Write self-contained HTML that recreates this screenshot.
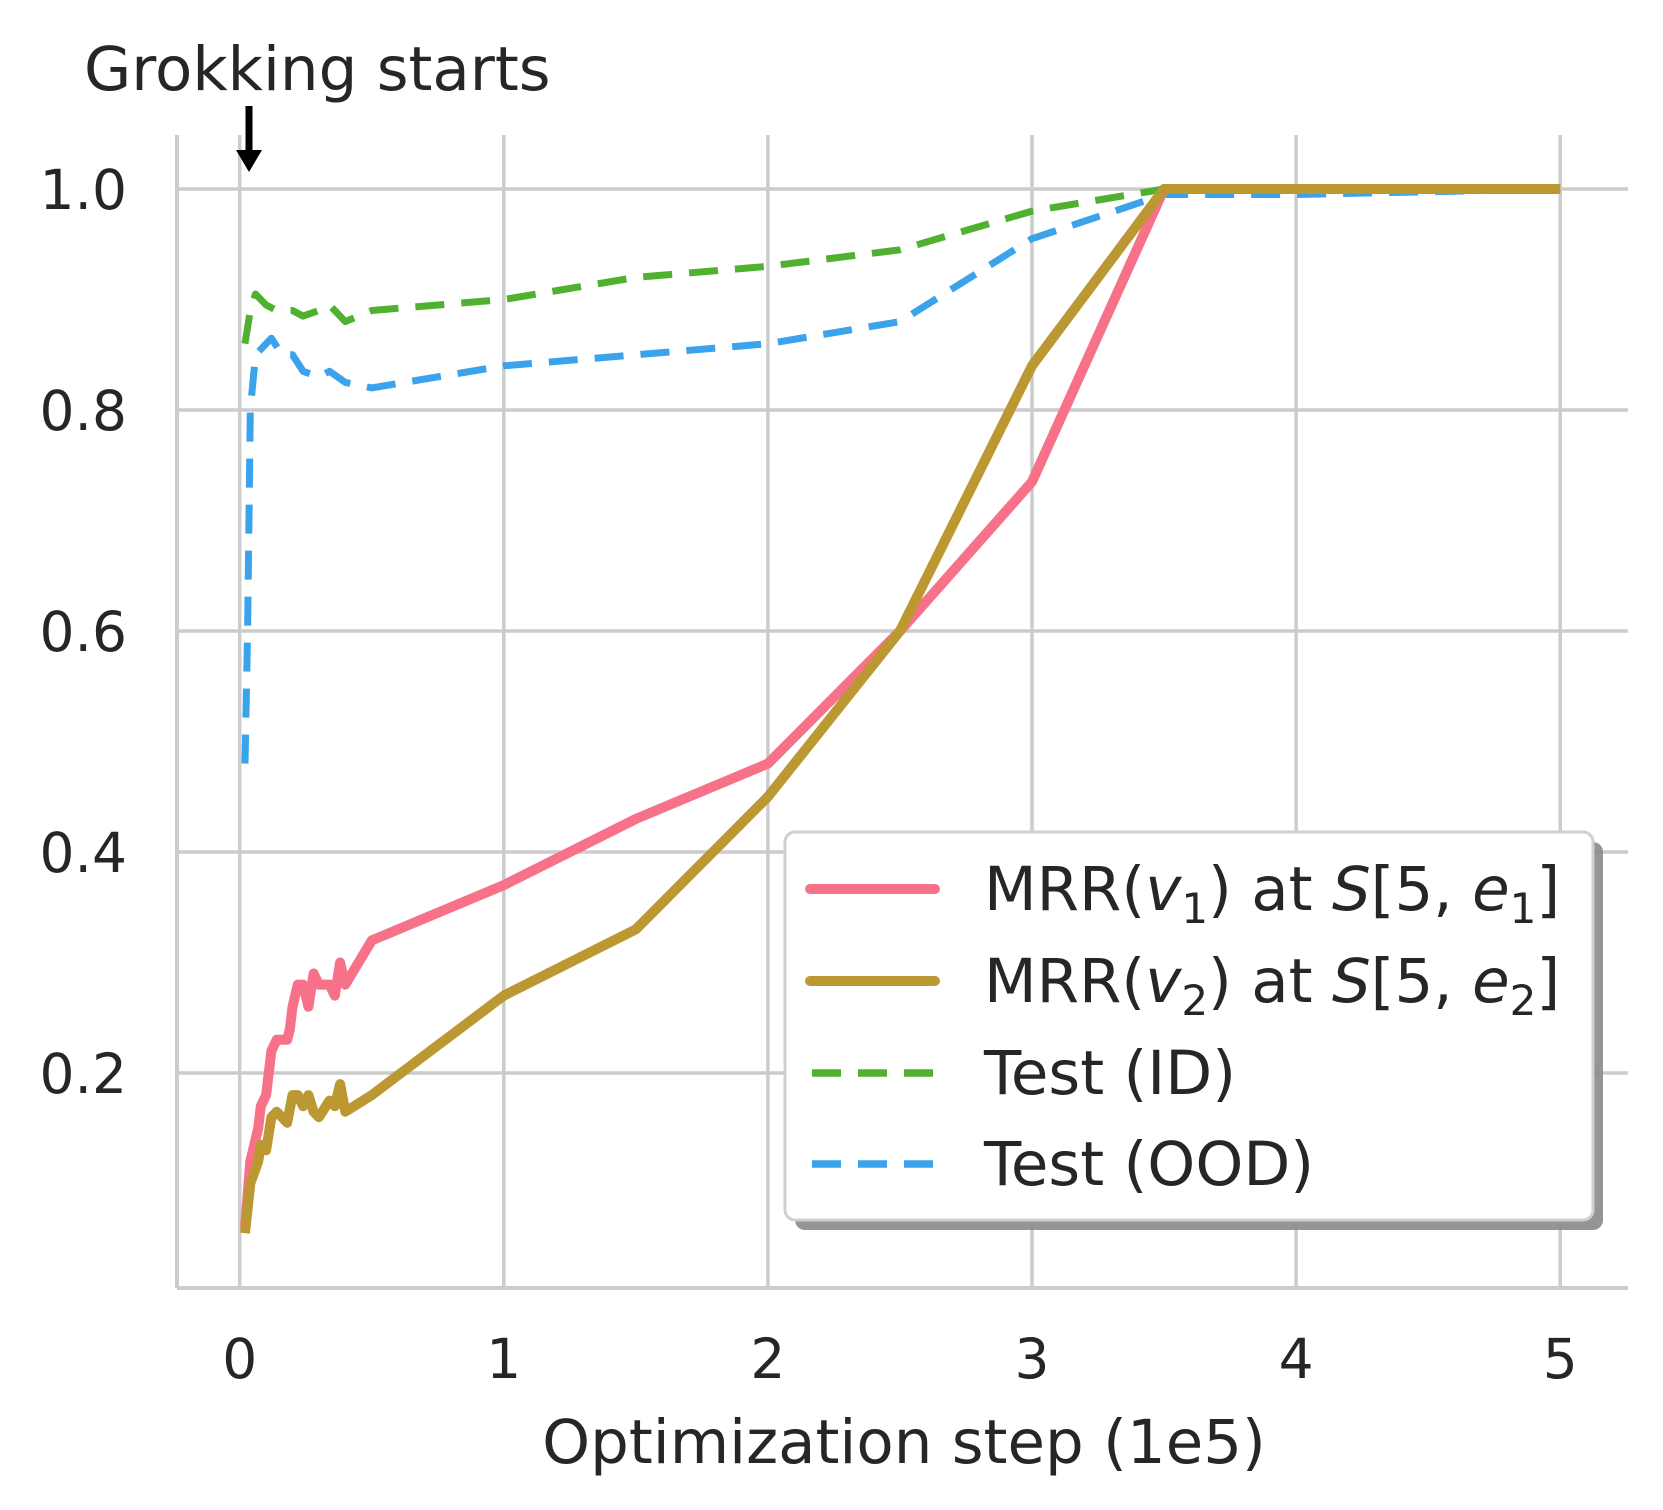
<!DOCTYPE html>
<html><head><meta charset="utf-8"><style>
html,body{margin:0;padding:0;background:#fff}
svg{display:block}
text{font-family:"DejaVu Sans","Liberation Sans",sans-serif;fill:#262626}
</style></head><body>
<svg id="s" width="1663" height="1510" xmlns="http://www.w3.org/2000/svg">
<g id="grid" stroke="#cccccc" stroke-width="3.5"></g>
<line x1="177" y1="1288" x2="1628" y2="1288" stroke="#cccccc" stroke-width="4"/>
<line x1="177" y1="135" x2="177" y2="1288" stroke="#cccccc" stroke-width="4"/>
<g id="ticks" font-size="55"></g>
<g id="series" fill="none" stroke-linejoin="round"></g>
<text x="84" y="90" font-size="61">Grokking starts</text>
<line x1="249" y1="106" x2="249" y2="156" stroke="#000" stroke-width="7"/>
<polygon points="236,150 262,150 249,172" fill="#000"/>
<text x="904" y="1463" font-size="61" text-anchor="middle">Optimization step (1e5)</text>
<rect x="795" y="842" width="808" height="388" rx="10" fill="#8a8a8a" opacity="0.9"/>
<rect x="785" y="832" width="808" height="388" rx="10" fill="#fff" stroke="#d0d0d0" stroke-width="3"/>
<line x1="810" y1="889" x2="935" y2="889" stroke="#f77189" stroke-width="10" stroke-linecap="round"/>
<line x1="810" y1="981" x2="935" y2="981" stroke="#bb9832" stroke-width="10" stroke-linecap="round"/>
<line x1="812" y1="1073" x2="935" y2="1073" stroke="#50b131" stroke-width="7.5" stroke-dasharray="29,17"/>
<line x1="812" y1="1164" x2="935" y2="1164" stroke="#3ba3ec" stroke-width="7.5" stroke-dasharray="29,17"/>
<g font-size="61">
<text x="984" y="910">MRR(<tspan font-style="italic">v</tspan><tspan font-size="42" dy="13">1</tspan><tspan dy="-13">) at </tspan><tspan font-style="italic">S</tspan>[5, <tspan font-style="italic">e</tspan><tspan font-size="42" dy="13">1</tspan><tspan dy="-13">]</tspan></text>
<text x="984" y="1002">MRR(<tspan font-style="italic">v</tspan><tspan font-size="42" dy="13">2</tspan><tspan dy="-13">) at </tspan><tspan font-style="italic">S</tspan>[5, <tspan font-style="italic">e</tspan><tspan font-size="42" dy="13">2</tspan><tspan dy="-13">]</tspan></text>
<text x="984" y="1094">Test (ID)</text>
<text x="984" y="1185">Test (OOD)</text>
</g>
</svg>
<script>
var NS="http://www.w3.org/2000/svg";
function X(v){return 239.7+v*264.1}
function Y(v){return 189+(1-v)*1105}
function el(p,t,a,txt){var e=document.createElementNS(NS,t);for(var k in a)e.setAttribute(k,a[k]);if(txt!=null)e.textContent=txt;p.appendChild(e);return e}
var g=document.getElementById('grid'),tk=document.getElementById('ticks'),sr=document.getElementById('series');
for(var i=0;i<=5;i++){el(g,'line',{x1:X(i),x2:X(i),y1:135,y2:1288});el(tk,'text',{x:X(i),y:1378,'text-anchor':'middle'},String(i));}
[0.2,0.4,0.6,0.8,1.0].forEach(function(v){el(g,'line',{x1:177,x2:1628,y1:Y(v),y2:Y(v)});el(tk,'text',{x:127,y:Y(v)+20,'text-anchor':'end'},v.toFixed(1));});
function path(d,c,w,dash){var s='';d.forEach(function(p,i){s+=(i?'L':'M')+X(p[0]).toFixed(1)+','+Y(p[1]).toFixed(1)});var a={d:s,stroke:c,'stroke-width':w};if(dash)a['stroke-dasharray']=dash;el(sr,'path',a)}
var green=[[0.02,0.86],[0.04,0.89],[0.06,0.905],[0.1,0.895],[0.14,0.89],[0.2,0.89],[0.24,0.885],[0.3,0.89],[0.34,0.895],[0.4,0.88],[0.5,0.89],[1,0.9],[1.5,0.92],[2,0.93],[2.5,0.945],[3,0.98],[3.5,1],[5,1]];
var blue=[[0.02,0.48],[0.03,0.6],[0.04,0.8],[0.06,0.85],[0.12,0.865],[0.16,0.85],[0.2,0.85],[0.24,0.835],[0.3,0.83],[0.34,0.835],[0.4,0.825],[0.5,0.82],[1,0.84],[1.5,0.85],[2,0.86],[2.5,0.88],[3,0.955],[3.5,0.995],[4,0.995],[5,1]];
var pink=[[0.02,0.06],[0.04,0.12],[0.07,0.15],[0.08,0.17],[0.1,0.18],[0.12,0.22],[0.14,0.23],[0.18,0.23],[0.19,0.24],[0.2,0.26],[0.22,0.28],[0.24,0.28],[0.26,0.26],[0.28,0.29],[0.3,0.28],[0.34,0.28],[0.36,0.27],[0.38,0.3],[0.4,0.28],[0.5,0.32],[1,0.37],[1.5,0.43],[2,0.48],[2.5,0.6],[3,0.735],[3.5,1],[5,1]];
var gold=[[0.02,0.055],[0.04,0.1],[0.07,0.12],[0.08,0.135],[0.1,0.13],[0.12,0.16],[0.14,0.165],[0.18,0.155],[0.2,0.18],[0.22,0.18],[0.24,0.17],[0.26,0.18],[0.28,0.165],[0.3,0.16],[0.34,0.175],[0.36,0.17],[0.38,0.19],[0.4,0.165],[0.5,0.18],[1,0.27],[1.5,0.33],[2,0.45],[2.5,0.6],[3,0.84],[3.5,1],[5,1]];
path(green,'#50b131',7,'29,17');
path(blue,'#3ba3ec',7,'29,17');
path(pink,'#f77189',10);
path(gold,'#bb9832',10);
</script>
</body></html>
